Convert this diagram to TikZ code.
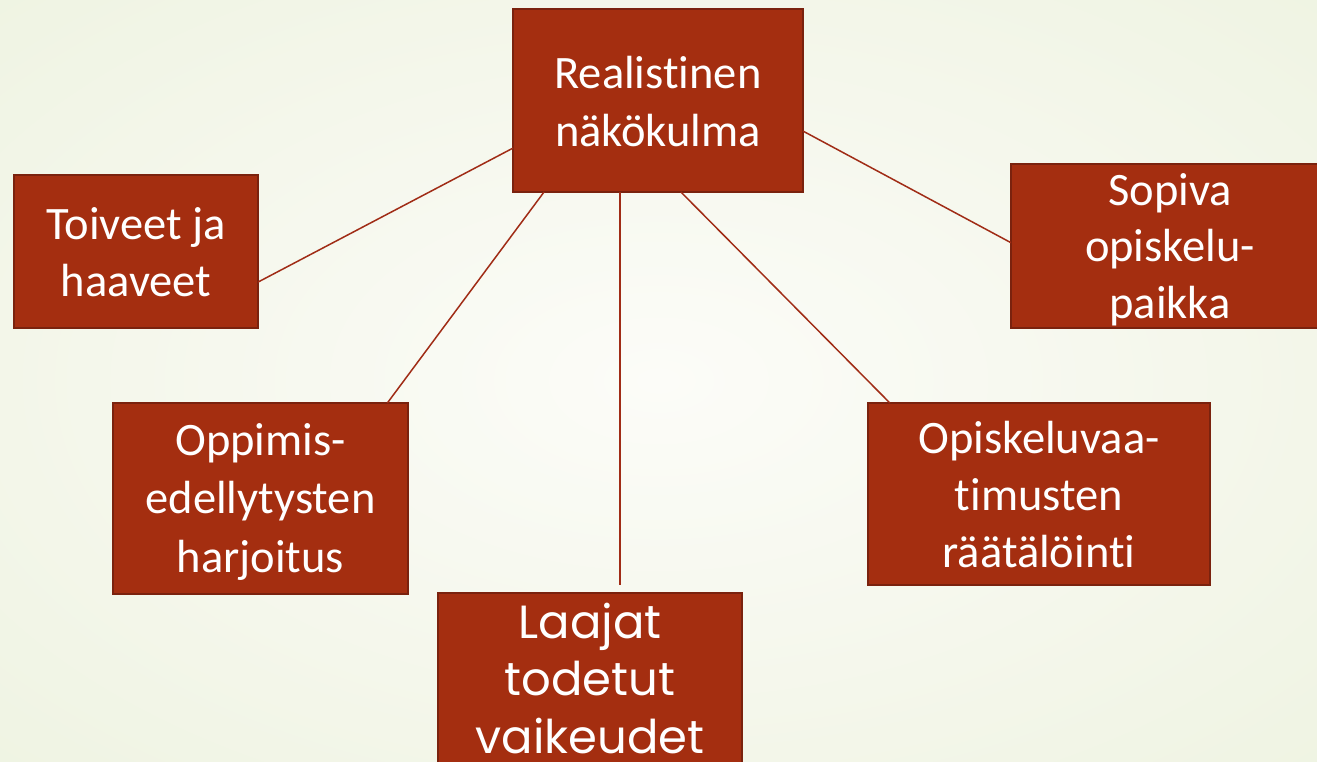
\documentclass[tikz,border=0pt]{standalone}
\usepackage{fontspec}
\setmainfont{Carlito}[Ligatures={NoCommon,NoContextual}]
\newfontfamily\gothicfont{Poppins}
\usetikzlibrary{calc}
\definecolor{boxfill}{RGB}{164,46,16}
\definecolor{boxline}{RGB}{122,34,14}
\definecolor{connc}{RGB}{160,44,22}
\definecolor{bgin}{RGB}{252,252,248}
\definecolor{bgout}{RGB}{234,240,218}
\newcommand{\boxtext}[5]{\parbox[c][#2pt][t]{#1pt}{\centering\fontsize{46.5}{#4}\selectfont\baselineskip=#4pt\rule{0pt}{#3pt}#5\par}}
\tikzset{
  boxnode/.style={draw=boxline, line width=2pt, fill=boxfill, text=white, inner sep=0pt, outer sep=0pt},
  connline/.style={draw=connc, line width=1.5pt}
}
\begin{document}
\begin{tikzpicture}[x=1pt,y=-1pt]
\useasboundingbox (0,0) rectangle (1317,761);
\clip (0,0) rectangle (1317,761);
\shade[inner color=bgin, outer color=bgout] (-658,-380) rectangle (1975,1141);

\node[boxnode] (c) at (658,100.5) {\boxtext{290}{183}{79}{58}{Realist\kern0pt inen\\näkökulma}};
\node[boxnode] (toiv) at (136,251.5) {\boxtext{244}{153}{64}{57.5}{Toiveet ja\\haaveet}};
\node[boxnode] (sop) at (1170,246) {\boxtext{318}{164}{41}{56.5}{Sopiva\\opiskelu-\\paikka}};
\node[boxnode] (opp) at (260.5,498.5) {\boxtext{295}{191}{52}{58.5}{Oppimis-\\edellytysten\\harjoitus}};
\node[boxnode] (opi) at (1039,494) {\boxtext{342}{182}{50}{57}{Opiskeluvaa-\\t\kern0pt imusten\\räätälöint\kern0pt i}};
\node[boxnode] (laa) at (590,686.5) {\boxtext{304}{187}{45}{57.5}{\gothicfont Laajat\\todetut\\vaikeudet}};

\coordinate (vend) at (620,585);

\draw[connline] ($(c.north west)!0.76!(c.south west)$) -- ($(toiv.north east)!0.70!(toiv.south east)$);
\draw[connline] ($(c.south west)!0.107!(c.south east)$) -- ($(opp.north west)!0.93!(opp.north east)$);
\draw[connline] (c.south -| vend) -- (vend);
\draw[connline] ($(c.south west)!0.579!(c.south east)$) -- ($(opi.north west)!0.064!(opi.north east)$);
\draw[connline] ($(c.north east)!0.667!(c.south east)$) -- ($(sop.north west)!0.48!(sop.south west)$);
\end{tikzpicture}
\end{document}
